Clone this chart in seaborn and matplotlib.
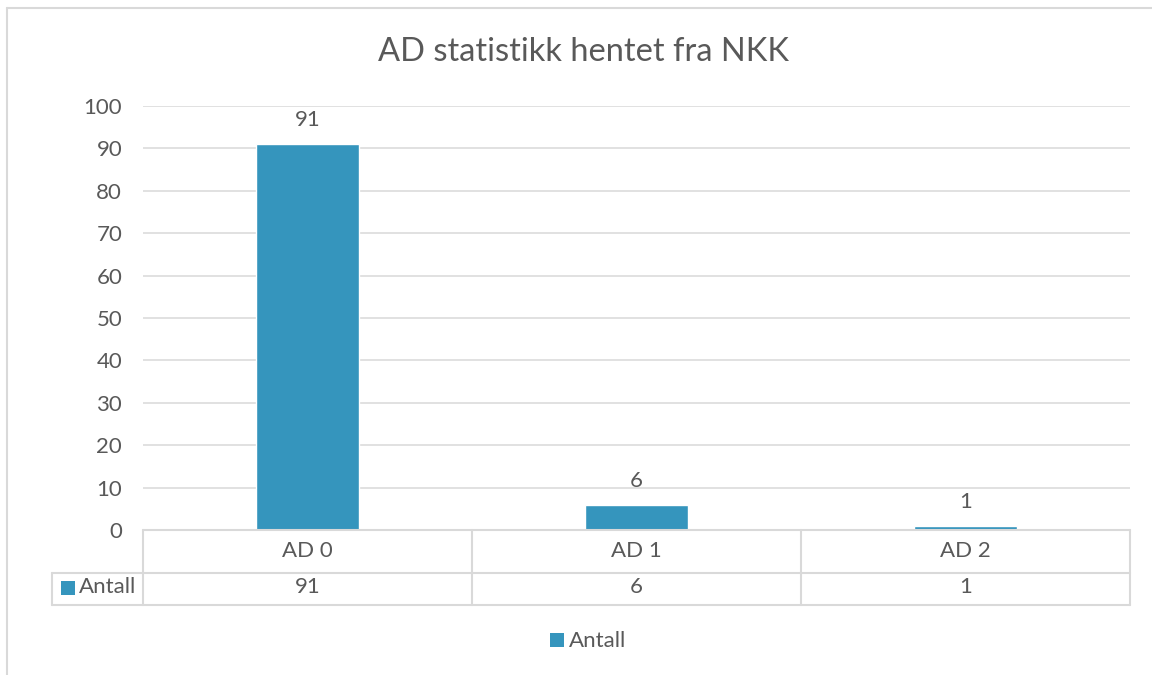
import matplotlib
matplotlib.use("Agg")
import matplotlib.pyplot as plt
from matplotlib.lines import Line2D
from matplotlib.patches import Rectangle
from matplotlib.transforms import blended_transform_factory
import seaborn as sns

# data
categories = ["AD 0", "AD 1", "AD 2"]
antall = [91, 6, 1]
series_name = "Antall"
title = "AD statistikk hentet fra NKK"
y_ticks = list(range(0, 101, 10))

BAR = "#3595bd"
TXT = "#595959"
GRID = "#d9d9d9"
W, H = 1152, 675
FS = 16

sns.set_style("white")
plt.rcParams["font.family"] = ["Lato", "DejaVu Sans"]


def fx(px):
    return px / W


def fy(py):
    return 1 - py / H


fig = plt.figure(figsize=(W / 100, H / 100), dpi=100)
ax = fig.add_axes([fx(143), fy(530), fx(1130) - fx(143), fy(106) - fy(530)])

sns.barplot(x=categories, y=antall, color=BAR, saturation=1, width=0.315, ax=ax)
ax.set_xlim(-0.5, len(categories) - 0.5)
ax.set_ylim(0, 100)
ax.set_yticks(y_ticks)
ax.yaxis.grid(True, color=GRID, linewidth=1.1)
ax.set_axisbelow(True)
ax.tick_params(axis="y", length=0, pad=15, labelsize=FS, labelcolor=TXT)
ax.tick_params(axis="x", length=0, labelbottom=False)
ax.set_xlabel("")
ax.set_ylabel("")
sns.despine(ax=ax, left=True, bottom=True)

ax.bar_label(ax.containers[0], labels=[str(v) for v in antall],
             padding=10, fontsize=FS, color=TXT)

fig.text(fx(583), fy(52), title, ha="center", va="center", fontsize=23.5, color=TXT)

# data table under the axis
def hline(x0, x1, y):
    fig.add_artist(Line2D([fx(x0), fx(x1)], [fy(y), fy(y)], color=GRID, lw=1.5))


def vline(x, y0, y1):
    fig.add_artist(Line2D([fx(x), fx(x)], [fy(y0), fy(y1)], color=GRID, lw=1.5))


hline(143, 1130, 530)
hline(52, 1130, 573)
hline(52, 1130, 605)
vline(52, 573, 605)
col_w = (1130 - 143) / len(categories)
for i in range(len(categories) + 1):
    vline(143 + i * col_w, 530, 605)

trans = blended_transform_factory(ax.transData, fig.transFigure)
for i, (cat, v) in enumerate(zip(categories, antall)):
    ax.text(i, fy(551), cat, transform=trans, ha="center", va="center",
            fontsize=FS, color=TXT)
    ax.text(i, fy(587), str(v), transform=trans, ha="center", va="center",
            fontsize=FS, color=TXT)

fig.add_artist(Rectangle((fx(61), fy(595)), fx(14), fy(581) - fy(595),
                         facecolor=BAR, edgecolor="none"))
fig.text(fx(79), fy(587), series_name, ha="left", va="center", fontsize=FS, color=TXT)

# legend
fig.add_artist(Rectangle((fx(550), fy(647)), fx(14), fy(633) - fy(647),
                         facecolor=BAR, edgecolor="none"))
fig.text(fx(569), fy(641), series_name, ha="left", va="center", fontsize=FS, color=TXT)

# chart frame
fig.add_artist(Line2D([fx(7), fx(7)], [fy(8), 0], color=GRID, lw=1.5))
fig.add_artist(Line2D([fx(7), 1], [fy(8), fy(8)], color=GRID, lw=1.5))

fig.savefig("out.png", dpi=100)
